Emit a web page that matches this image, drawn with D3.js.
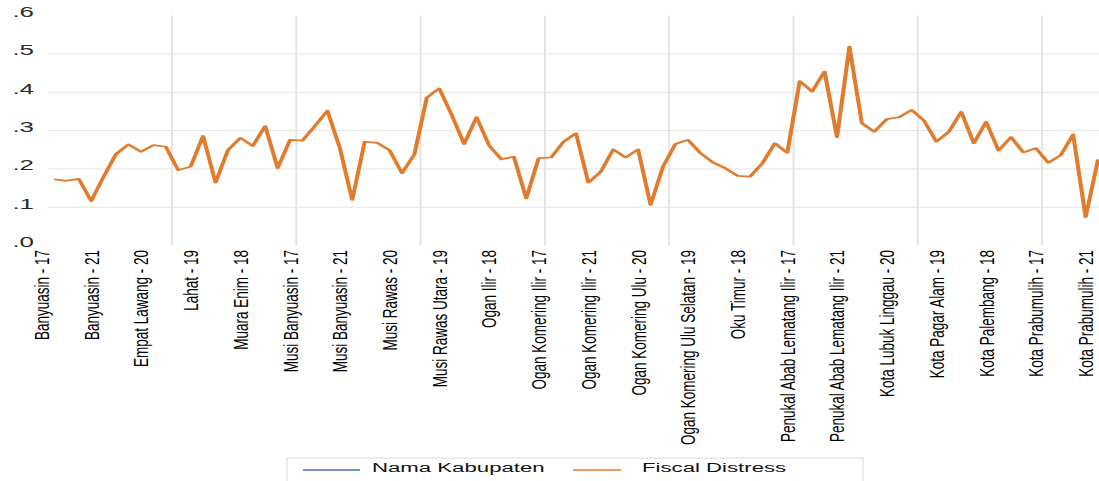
<!DOCTYPE html>
<html>
<head>
<meta charset="utf-8">
<script src="https://cdn.jsdelivr.net/npm/d3@7"></script>
<style>
  html, body { margin: 0; padding: 0; background: #fff; }
  svg { display: block; font-family: "Liberation Sans", Arial, sans-serif; }
</style>
</head>
<body>
<svg id="chart" width="1099" height="481"></svg>
<script>
// ---- data ----
const regions = ["Banyuasin", "Empat Lawang", "Lahat", "Muara Enim", "Musi Banyuasin",
  "Musi Rawas", "Musi Rawas Utara", "Ogan Ilir", "Ogan Komering Ilir", "Ogan Komering Ulu",
  "Ogan Komering Ulu Selatan", "Oku Timur", "Penukal Abab Lematang Ilir",
  "Kota Lubuk Linggau", "Kota Pagar Alam", "Kota Palembang", "Kota Prabumulih"];
const years = ["17", "18", "19", "20", "21"];
const categories = regions.flatMap(r => years.map(y => r + " - " + y));
const fiscalDistress = [
  0.173, 0.169, 0.174, 0.116, 0.180, 0.239, 0.264, 0.245, 0.262, 0.258,
  0.197, 0.206, 0.286, 0.164, 0.249, 0.281, 0.260, 0.312, 0.202, 0.276,
  0.274, 0.312, 0.352, 0.255, 0.119, 0.271, 0.268, 0.249, 0.189, 0.238,
  0.386, 0.410, 0.341, 0.265, 0.335, 0.262, 0.225, 0.232, 0.123, 0.228,
  0.230, 0.271, 0.293, 0.164, 0.193, 0.251, 0.230, 0.251, 0.106, 0.206,
  0.265, 0.276, 0.242, 0.217, 0.202, 0.182, 0.180, 0.215, 0.267, 0.242,
  0.429, 0.402, 0.454, 0.283, 0.519, 0.319, 0.297, 0.330, 0.335, 0.354,
  0.326, 0.271, 0.297, 0.349, 0.267, 0.323, 0.248, 0.283, 0.243, 0.254,
  0.216, 0.236, 0.290, 0.074, 0.225
];
const yTicks = [0, 0.1, 0.2, 0.3, 0.4, 0.5, 0.6];
const seriesNames = ["Nama Kabupaten", "Fiscal Distress"];
const seriesColors = ["#4472C4", "#E17B2E"];

// ---- layout ----
const svg = d3.select("#chart");
const plotLeft = 47.7, step = 12.43, plotTop = 15.6, plotBottom = 245.6;
const x = d3.scaleBand().domain(categories).range([plotLeft, plotLeft + step * categories.length]).paddingInner(0).paddingOuter(0);
const y = d3.scaleLinear().domain([0, 0.6]).range([plotBottom, plotTop]);
const cx = c => x(c) + x.bandwidth() / 2;
const SX = 2.4; // horizontal stretch of the original picture

// horizontal gridlines
svg.append("g").selectAll("line").data(yTicks.filter(t => t > 0 && t < 0.6)).join("line")
  .attr("x1", plotLeft).attr("x2", 1099)
  .attr("y1", d => y(d)).attr("y2", d => y(d))
  .attr("stroke", "#e4e4e4").attr("stroke-width", 1);

// vertical gridlines at category boundaries every 10
svg.append("g").selectAll("line").data(categories.filter((c, i) => i > 0 && i % 10 === 0)).join("line")
  .attr("x1", d => x(d)).attr("x2", d => x(d))
  .attr("y1", plotTop).attr("y2", plotBottom)
  .attr("stroke", "#e4e4e4").attr("stroke-width", 2);

// y labels
const fmt = d => d3.format(".1f")(d).replace(/^0/, "");
svg.append("g").selectAll("text").data(yTicks).join("text")
  .attr("transform", d => `translate(34,${y(d) + 1.5}) scale(1.85,1)`)
  .attr("text-anchor", "end")
  .attr("font-size", 14)
  .attr("fill", "#2a2a2a")
  .text(fmt);

// x labels
svg.append("g").selectAll("text").data(categories.filter((c, i) => i % 4 === 0)).join("text")
  .attr("transform", d => `translate(${cx(d) - 5},250) scale(1.45,1) rotate(-90)`)
  .attr("text-anchor", "end")
  .attr("font-size", 13.5)
  .attr("fill", "#000")
  .text(d => d);

// series line (drawn in stretched space so stroke looks like the original)
const xl = d3.scaleLinear().domain([0, categories.length - 1])
  .range([cx(categories[0]) / SX, cx(categories[categories.length - 1]) / SX]);
const line = d3.line().x((d, i) => xl(i)).y(d => y(d));
svg.append("g").attr("transform", `scale(${SX},1)`)
  .append("path").datum(fiscalDistress)
  .attr("d", line)
  .attr("fill", "none")
  .attr("stroke", seriesColors[1])
  .attr("stroke-width", 1.7)
  .attr("stroke-linejoin", "round");

// legend
const lg = svg.append("g");
lg.append("rect").attr("x", 287).attr("y", 458).attr("width", 576).attr("height", 40)
  .attr("fill", "#fff").attr("stroke", "#d9d9d9").attr("stroke-width", 1);
const legendItems = [
  { name: seriesNames[0], color: seriesColors[0], x1: 303, x2: 360, tx: 372 },
  { name: seriesNames[1], color: seriesColors[1], x1: 573, x2: 621, tx: 642 }
];
legendItems.forEach(it => {
  lg.append("line").attr("x1", it.x1).attr("x2", it.x2).attr("y1", 470).attr("y2", 470)
    .attr("stroke", it.color).attr("stroke-width", 1.5);
  lg.append("text").attr("transform", `translate(${it.tx},472) scale(1.85,1)`)
    .attr("font-size", 12).attr("fill", "#111").text(it.name);
});
</script>
</body>
</html>
